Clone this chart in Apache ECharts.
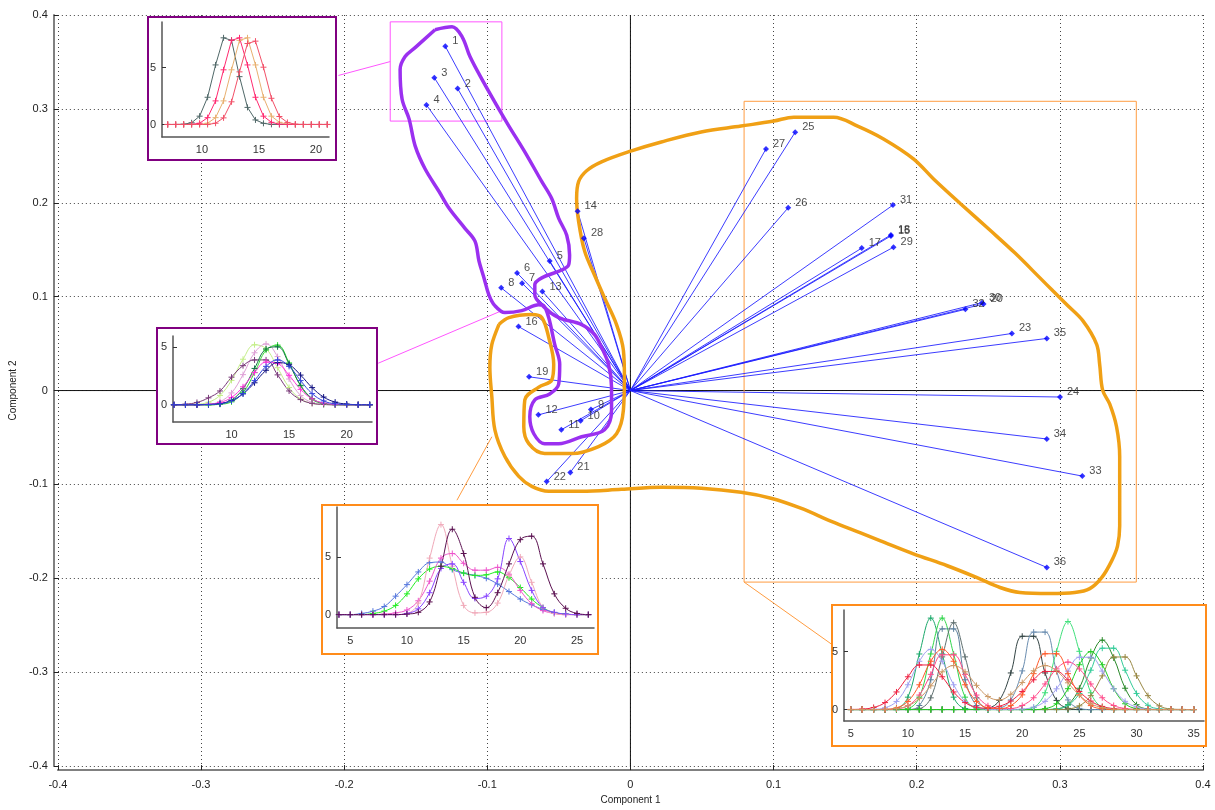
<!DOCTYPE html>
<html><head><meta charset="utf-8">
<script src="https://cdn.jsdelivr.net/npm/echarts@6/dist/echarts.min.js"></script>
<style>html,body{margin:0;padding:0;background:#fff}#c{width:1215px;height:810px}</style>
</head><body><div id="c"></div>
<script>
// ---------- main biplot data ----------
const pointNames = ['1','2','3','4','5','6','7','8','9','10','11','12','13','14','15','16','17','18','19','20','21','22','23','24','25','26','27','28','29','30','31','32','33','34','35','36'];
const pointX = [-0.1293,-0.1207,-0.1370,-0.1425,-0.0564,-0.0792,-0.0757,-0.0903,-0.0276,-0.0348,-0.0483,-0.0643,-0.0615,-0.0369,0.1820,-0.0782,0.1616,0.1820,-0.0708,0.2467,-0.0420,-0.0585,0.2665,0.3001,0.1151,0.1102,0.0947,-0.0325,0.1838,0.2456,0.1834,0.2340,0.3157,0.2909,0.2909,0.2909];
const pointY = [0.3666,0.3216,0.3332,0.3042,0.1380,0.1253,0.1144,0.1094,-0.0203,-0.0322,-0.0418,-0.0259,0.1055,0.1911,0.1647,0.0682,0.1517,0.1658,0.0146,0.0922,-0.0872,-0.0970,0.0608,-0.0069,0.2751,0.1947,0.2574,0.1623,0.1527,0.0936,0.1975,0.0865,-0.0911,-0.0516,0.0555,-0.1884];
const mainTicks = [-0.4,-0.3,-0.2,-0.1,0,0.1,0.2,0.3,0.4];

// hand-drawn group outlines (data coordinates)
const purpleX = [-0.1365,-0.1246,-0.1176,-0.1121,-0.1037,-0.0919,-0.0849,-0.0738,-0.0619,-0.0550,-0.0501,-0.0445,-0.0425,-0.0432,-0.0480,-0.0619,-0.0668,-0.0668,-0.0599,-0.0501,-0.0341,-0.0251,-0.0202,-0.0153,-0.0132,-0.0132,-0.0181,-0.0341,-0.0501,-0.0599,-0.0675,-0.0703,-0.0668,-0.0564,-0.0501,-0.0494,-0.0529,-0.0571,-0.0606,-0.0640,-0.0759,-0.0877,-0.0947,-0.0989,-0.1023,-0.1058,-0.1086,-0.1156,-0.1267,-0.1337,-0.1435,-0.1504,-0.1546,-0.1595,-0.1609,-0.1574,-0.1504,-0.1365];
const purpleY = [0.3843,0.3874,0.3768,0.3557,0.3314,0.2997,0.2817,0.2542,0.2225,0.2045,0.1834,0.1654,0.1443,0.1337,0.1284,0.1200,0.1126,0.1020,0.0883,0.0777,0.0703,0.0597,0.0460,0.0280,0.0037,-0.0206,-0.0418,-0.0492,-0.0566,-0.0566,-0.0460,-0.0280,-0.0100,-0.0037,0.0069,0.0280,0.0492,0.0777,0.0904,0.0914,0.0851,0.0830,0.0904,0.1020,0.1200,0.1380,0.1591,0.1728,0.1941,0.2120,0.2362,0.2606,0.2891,0.3102,0.3419,0.3557,0.3652,0.3843];
const orangeX = [-0.0919,-0.0849,-0.0689,-0.0619,-0.0571,-0.0536,-0.0550,-0.0640,-0.0738,-0.0745,-0.0710,-0.0599,-0.0411,-0.0223,-0.0097,-0.0049,-0.0042,-0.0049,-0.0097,-0.0181,-0.0251,-0.0320,-0.0362,-0.0376,-0.0362,-0.0306,-0.0202,0.0007,0.0216,0.0494,0.0773,0.1002,0.1141,0.1420,0.1587,0.1768,0.1977,0.2116,0.2304,0.2513,0.2687,0.2861,0.2951,0.3049,0.3160,0.3257,0.3278,0.3299,0.3348,0.3396,0.3418,0.3418,0.3418,0.3403,0.3362,0.3292,0.3209,0.3104,0.2930,0.2721,0.2582,0.2422,0.2213,0.1977,0.1747,0.1608,0.1399,0.1190,0.0982,0.0773,0.0494,0.0216,-0.0063,-0.0341,-0.0571,-0.0689,-0.0780,-0.0877,-0.0947,-0.0968,-0.0982,-0.0968,-0.0919];
const orangeY = [0.0703,0.0777,0.0809,0.0777,0.0566,0.0280,0.0111,0.0037,-0.0100,-0.0386,-0.0566,-0.0671,-0.0671,-0.0597,-0.0460,-0.0206,0.0143,0.0428,0.0703,0.0988,0.1231,0.1485,0.1802,0.2045,0.2225,0.2341,0.2436,0.2553,0.2648,0.2754,0.2817,0.2870,0.2912,0.2912,0.2817,0.2680,0.2468,0.2257,0.1993,0.1707,0.1464,0.1200,0.1062,0.0914,0.0745,0.0492,0.0280,0.0005,-0.0143,-0.0386,-0.0703,-0.1052,-0.1443,-0.1654,-0.1814,-0.1993,-0.2110,-0.2151,-0.2162,-0.2151,-0.2098,-0.1993,-0.1866,-0.1739,-0.1601,-0.1517,-0.1390,-0.1253,-0.1147,-0.1084,-0.1041,-0.1031,-0.1052,-0.1073,-0.1073,-0.1020,-0.0914,-0.0703,-0.0418,-0.0069,0.0248,0.0492,0.0703];
const magentaBoxX = [-0.1678,-0.0898];
const magentaBoxY = [0.2870,0.3927];
const orangeBoxX = [0.0794,0.3534];
const orangeBoxY = [-0.2040,0.3081];
const link1 = [[-0.2040,0.3356],[-0.1678,0.3504]];
const link2 = [[-0.1762,0.0291],[-0.0898,0.0851]];
const link3 = [[-0.1212,-0.1168],[-0.0968,-0.0492]];
const link4 = [[0.0794,-0.2040],[0.1414,-0.2711]];

// ---------- inset 1 ----------
const i1X = [7.0,7.7,8.4,9.1,9.8,10.5,11.2,11.9,12.6,13.3,14.0,14.7,15.4,16.1,16.8,17.5,18.2,18.9,19.6,20.3,21.0];
const i1Gray = [0,0,0.02,0.15,0.73,2.39,5.23,7.61,7.39,4.2,1.5,0.4,0.1,0.01,0,0,0,0,0,0,0];
const i1Tan  = [0,0,0,0,0,0.11,0.6,2.07,4.8,7.39,7.61,5.23,2.39,0.73,0.19,0.02,0,0,0,0,0];
const i1Pink = [0,0,0,0.01,0.11,0.6,2.07,4.8,7.39,7.61,5.23,2.39,0.73,0.19,0.02,0,0,0,0,0,0];
const i1Red  = [0,0,0,0,0,0,0.11,0.58,1.99,4.62,7.11,7.32,5.03,2.3,0.7,0.18,0.02,0,0,0,0];
// ---------- inset 2 ----------
const i2X = [5,6,7,8,9,10,11,12,13,14,15,16,17,18,19,20,21,22];
const i2Yellow  = [0,0,0.04,0.22,0.81,2.12,3.96,5.22,4.87,3.22,1.5,0.5,0.12,0.02,0,0,0,0];
const i2Mauve   = [0,0,0.01,0.05,0.27,1.03,2.62,4.52,5.29,4.19,2.24,0.81,0.2,0.03,0,0,0,0];
const i2Purple  = [0,0.05,0.2,0.6,1.2,2.4,3.4,3.9,3.9,2.6,1.2,0.45,0.12,0.03,0,0,0,0];
const i2Green   = [0,0,0,0,0.04,0.25,1.05,2.79,4.75,5.19,3.64,1.64,0.47,0.09,0.01,0,0,0];
const i2DkGreen = [0,0,0,0,0.08,0.41,1.39,3.16,4.85,5.04,3.55,1.69,0.54,0.12,0.02,0,0,0];
const i2Magenta = [0,0,0,0.04,0.19,0.64,1.56,2.81,3.71,3.59,2.56,1.34,0.51,0.14,0.03,0,0,0];
const i2Navy    = [0,0,0,0.03,0.11,0.37,0.95,1.91,3.0,3.66,3.48,2.58,1.49,0.67,0.23,0.06,0.01,0];
const i2Blue    = [0,0,0,0.02,0.08,0.33,0.97,2.1,3.34,3.9,3.34,2.1,0.97,0.33,0.08,0.02,0,0];
// ---------- inset 3 ----------
const i3X = [4,5,6,7,8,9,10,11,12,13,14,15,16,17,18,19,20,21,22,23,24,25,26];
const i3Blue    = [0,0,0.1,0.3,0.7,1.6,2.6,3.7,4.5,4.56,3.9,3.6,3.4,3.15,2.65,2.0,1.35,0.85,0.45,0.18,0.05,0,0];
const i3Green   = [0,0,0,0.1,0.3,0.8,1.8,3.1,3.95,4.18,4.0,3.6,3.4,3.45,3.7,3.2,2.35,1.35,0.6,0.15,0.03,0,0];
const i3Magenta = [0,0,0,0,0.05,0.15,0.4,1.2,2.9,4.9,5.3,4.45,3.85,3.85,4.1,3.5,2.1,0.95,0.35,0.1,0,0,0];
const i3Pink    = [0,0,0,0,0,0,0.1,1.0,4.9,7.8,4.2,0.8,0.15,0.2,1.0,3.4,5.0,2.8,0.6,0.1,0,0,0];
const i3Violet  = [0,0,0,0,0,0,0.1,0.5,1.9,4.0,4.4,2.8,1.4,1.6,3.1,6.6,4.6,2.1,0.6,0.2,0.05,0,0];
const i3Dark    = [0,0,0,0,0,0,0.05,0.2,1.1,4.2,7.4,5.3,1.5,0.6,1.9,4.4,6.5,6.8,4.4,1.8,0.55,0.1,0];
// ---------- inset 4 ----------
const i4X = [5,6,7,8,9,10,11,12,13,14,15,16,17,18,19,20,21,22,23,24,25,26,27,28,29,30,31,32,33,34,35];
const i4Teal     = [0,0,0,0,0.09,1.07,4.8,7.9,4.8,1.07,0.09,0,0,0,0,0,0,0,0,0,0,0,0,0,0,0,0,0,0,0,0];
const i4Green    = [0,0,0,0,0,0.09,1.07,4.8,7.9,4.8,1.07,0.09,0,0,0,0,0,0,0,0,0,0,0,0,0,0,0,0,0,0,0];
const i4Slate    = [0,0,0,0,0,0,0.35,2.57,6.97,6.97,2.57,0.35,0.02,0,0,0,0,0,0,0,0,0,0,0,0,0,0,0,0,0,0];
const i4Gray     = [0,0,0,0,0,0,0.08,1.01,4.55,7.5,4.55,1.01,0.08,0,0,0,0,0,0,0,0,0,0,0,0,0,0,0,0,0,0];
const i4DkSlate  = [0,0,0,0,0,0,0,0,0,0,0,0,0.1,0.79,3.16,6.33,6.33,3.16,0.79,0.1,0,0,0,0,0,0,0,0,0,0,0];
const i4Steel    = [0,0,0,0,0,0,0,0,0,0,0,0,0,0.1,0.83,3.34,6.69,6.69,3.34,0.83,0.1,0,0,0,0,0,0,0,0,0,0];
const i4OrangeRed= [0,0,0,0.02,0.15,0.7,2.14,4.17,5.2,4.17,2.14,0.7,0.15,0.08,0.34,1.27,3.1,4.82,4.82,3.1,1.27,0.34,0.06,0,0,0,0,0,0,0,0];
const i4Green2   = [0,0,0,0,0,0,0,0,0,0,0,0,0,0,0,0,0.18,1.45,5.03,7.6,5.03,1.45,0.18,0,0,0,0,0,0,0,0];
const i4DkGreen  = [0,0,0,0,0,0,0,0,0,0,0,0,0,0,0,0,0,0,0.05,0.42,1.84,4.46,6.0,4.46,1.84,0.42,0.05,0,0,0,0];
const i4TealGreen= [0,0,0,0,0,0,0,0,0,0,0,0,0,0,0,0,0,0.01,0.06,0.37,1.39,3.4,5.3,5.3,3.4,1.39,0.37,0.06,0.01,0,0];
const i4Olive    = [0,0,0,0,0,0,0,0,0,0,0,0,0,0,0,0,0,0,0,0.05,0.32,1.2,2.91,4.54,4.54,2.91,1.2,0.32,0.05,0.01,0];
const i4Lime     = [0,0,0,0,0,0,0,0,0,0,0,0,0,0,0,0,0,0.08,0.5,1.8,3.87,5.0,3.87,1.8,0.5,0.08,0,0,0,0,0];
const i4Lavender = [0,0,0.02,0.15,0.7,2.14,4.17,5.2,4.17,2.14,0.7,0.15,0.02,0,0.01,0.04,0.21,0.71,1.79,3.32,4.52,4.52,3.32,1.79,0.71,0.21,0.04,0.01,0,0,0];
const i4Red      = [0.01,0.04,0.18,0.6,1.52,2.83,3.85,3.85,2.83,1.52,0.6,0.2,0.12,0.28,0.73,1.56,2.57,3.29,3.29,2.57,1.56,0.73,0.27,0.08,0.02,0,0,0,0,0,0];
const i4Pink     = [0,0,0,0,0.06,0.33,1.25,3.04,4.73,4.73,3.04,1.25,0.33,0.08,0.09,0.35,1.02,2.21,3.51,4.1,3.51,2.21,1.02,0.35,0.09,0.02,0,0,0,0,0];
const i4Tan      = [0,0,0,0.02,0.08,0.32,0.95,2.05,3.26,3.8,3.26,2.09,1.12,0.83,1.32,2.33,3.35,3.8,3.35,2.31,1.24,0.51,0.17,0.04,0,0,0,0,0,0,0];

// ---------- build ----------
const FONT = 'Liberation Sans, Arial, sans-serif';
const PLUS = 'path://M0,5L10,5M5,0L5,10';
const pairs = (xs, ys) => xs.map((x, i) => [x, ys[i]]);
const box = (bx, by) => [[bx[0],by[0]],[bx[1],by[0]],[bx[1],by[1]],[bx[0],by[1]],[bx[0],by[0]]];

function insetSeries(k, xs, ys, color, smooth) {
  return {type:'line', xAxisIndex:k, yAxisIndex:k, data:pairs(xs, ys), symbol:PLUS, symbolSize:6,
    smooth:smooth, lineStyle:{color:color, width:1}, itemStyle:{color:color, borderColor:color, borderWidth:1},
    z:21, silent:true, animation:false};
}
function insetX(k, min, max, ticks) {
  return {type:'value', gridIndex:k, min:min, max:max, z:20,
    axisLine:{onZero:false, lineStyle:{color:'#555', width:1.5}}, axisTick:{show:false}, splitLine:{show:false},
    axisLabel:{customValues:ticks, color:'#333', fontSize:11, margin:7, fontFamily:FONT}};
}
function insetY(k, min, max) {
  return {type:'value', gridIndex:k, min:min, max:max, z:20,
    axisLine:{onZero:false, lineStyle:{color:'#555', width:1.5}},
    axisTick:{show:true, inside:true, length:4, customValues:[0,5], lineStyle:{color:'#333'}},
    splitLine:{show:false},
    axisLabel:{customValues:[0,5], color:'#333', fontSize:11, margin:6, fontFamily:FONT}};
}
function lineSeries(data, color, width, z, smooth) {
  return {type:'line', xAxisIndex:0, yAxisIndex:0, data:data, symbol:'none', smooth:smooth || false,
    lineStyle:{color:color, width:width}, z:z, silent:true, animation:false};
}

const frame = (x, y, w, h, color) => ({type:'rect', z:15, zlevel:0, shape:{x:x, y:y, width:w, height:h},
  style:{fill:'#fff', stroke:color, lineWidth:2}});

const option = {
  animation:false,
  textStyle:{fontFamily:FONT},
  grid:[
    {left:54, right:12, top:15, bottom:38},
    {left:162, top:22, width:167, height:115},
    {left:173, top:336, width:199, height:86},
    {left:337, top:507, width:257, height:121},
    {left:844, top:610, width:360, height:111}
  ],
  xAxis:[
    {type:'value', gridIndex:0, min:-0.4, max:0.4, interval:0.1, offset:4,
      axisLine:{onZero:false, lineStyle:{color:'#808080', width:2}},
      axisTick:{inside:true, length:5, lineStyle:{color:'#222'}},
      axisLabel:{color:'#222', fontSize:11, margin:9, customValues:mainTicks},
      splitLine:{show:true, lineStyle:{color:'#444', type:[1,3], width:1}},
      name:'Component 1', nameLocation:'middle', nameGap:24, nameTextStyle:{fontSize:10, color:'#222'}},
    insetX(1, 6.5, 21.15, [10,15,20]),
    insetX(2, 4.92, 22.2, [10,15,20]),
    insetX(3, 3.83, 26.5, [5,10,15,20,25]),
    insetX(4, 4.41, 35.9, [5,10,15,20,25,30,35])
  ],
  yAxis:[
    {type:'value', gridIndex:0, min:-0.4, max:0.4, interval:0.1, offset:4,
      axisLine:{onZero:false, lineStyle:{color:'#808080', width:2}},
      axisTick:{inside:true, length:5, lineStyle:{color:'#222'}},
      axisLabel:{color:'#222', fontSize:11, margin:6, customValues:mainTicks},
      splitLine:{show:true, lineStyle:{color:'#444', type:[1,3], width:1}},
      name:'Component 2', nameLocation:'middle', nameGap:30, nameTextStyle:{fontSize:10, color:'#222'}},
    insetY(1, -1.1, 9.0),
    insetY(2, -1.5, 5.98),
    insetY(3, -1.16, 9.33),
    insetY(4, -0.99, 8.6)
  ],
  graphic:{elements:[
    frame(148, 17, 188, 143, '#800080'),
    frame(157, 328, 220, 116, '#800080'),
    frame(322, 505, 276, 149, '#ff8c1a'),
    frame(832, 605, 374, 141, '#ff8c1a')
  ]},
  series:[
    lineSeries([[0,-0.4],[0,0.4]], '#111', 1, 3),
    lineSeries([[-0.4,0],[0.4,0]], '#111', 1, 3),
    {type:'lines', coordinateSystem:'cartesian2d', xAxisIndex:0, yAxisIndex:0, z:4, silent:true, animation:false,
      data:pointX.map((x, i) => ({coords:[[0,0],[x, pointY[i]]]})),
      lineStyle:{color:'#1a1aff', width:1, opacity:0.85}},
    lineSeries(box(magentaBoxX, magentaBoxY), '#ff55ff', 1, 3),
    lineSeries(box(orangeBoxX, orangeBoxY), '#ff9c40', 1, 3),
    lineSeries(link1, '#ff55ff', 1, 3),
    lineSeries(link2, '#ff55ff', 1, 3),
    lineSeries(link3, '#ff9c40', 1, 3),
    lineSeries(link4, '#ff9c40', 1, 3),
    lineSeries(pairs(purpleX, purpleY), '#9b30f0', 3.5, 5, 0.35),
    lineSeries(pairs(orangeX, orangeY), '#f0a015', 3.5, 5, 0.35),
    {type:'scatter', xAxisIndex:0, yAxisIndex:0, z:6, silent:true, animation:false,
      symbol:'diamond', symbolSize:6, itemStyle:{color:'#0000ff'},
      data:pointX.map((x, i) => ({name:pointNames[i], value:[x, pointY[i]]})),
      label:{show:true, formatter:'{b}', position:'right', distance:4, offset:[0,-5], color:'#222', fontSize:11}},
    // inset 1
    insetSeries(1, i1X, i1Gray, '#506868', false),
    insetSeries(1, i1X, i1Tan, '#e8b070', false),
    insetSeries(1, i1X, i1Pink, '#ff2a70', false),
    insetSeries(1, i1X, i1Red, '#f25068', false),
    // inset 2
    insetSeries(2, i2X, i2Yellow, '#c4ee88', 0.4),
    insetSeries(2, i2X, i2Mauve, '#dea0d6', 0.4),
    insetSeries(2, i2X, i2Purple, '#7a3a7a', 0.4),
    insetSeries(2, i2X, i2Green, '#33dd33', 0.4),
    insetSeries(2, i2X, i2DkGreen, '#117744', 0.4),
    insetSeries(2, i2X, i2Magenta, '#ff33dd', 0.4),
    insetSeries(2, i2X, i2Navy, '#101080', 0.4),
    insetSeries(2, i2X, i2Blue, '#3344dd', 0.4),
    // inset 3
    insetSeries(3, i3X, i3Blue, '#5577dd', 0.4),
    insetSeries(3, i3X, i3Green, '#22ee22', 0.4),
    insetSeries(3, i3X, i3Magenta, '#ee55cc', 0.4),
    insetSeries(3, i3X, i3Pink, '#f0a8b8', 0.4),
    insetSeries(3, i3X, i3Violet, '#8844ff', 0.4),
    insetSeries(3, i3X, i3Dark, '#5a1050', 0.4),
    // inset 4
    insetSeries(4, i4X, i4Teal, '#1aa86a', 0.4),
    insetSeries(4, i4X, i4Green, '#2fd64a', 0.4),
    insetSeries(4, i4X, i4Slate, '#5b7f9c', 0.4),
    insetSeries(4, i4X, i4Gray, '#5f6f6f', 0.4),
    insetSeries(4, i4X, i4DkSlate, '#334444', 0.4),
    insetSeries(4, i4X, i4Steel, '#6a8db0', 0.4),
    insetSeries(4, i4X, i4Green2, '#3ee07a', 0.4),
    insetSeries(4, i4X, i4DkGreen, '#2a8a2a', 0.4),
    insetSeries(4, i4X, i4TealGreen, '#33cc99', 0.4),
    insetSeries(4, i4X, i4Olive, '#998844', 0.4),
    insetSeries(4, i4X, i4Lime, '#22cc22', 0.4),
    insetSeries(4, i4X, i4Lavender, '#a0a0f0', 0.4),
    insetSeries(4, i4X, i4Red, '#ee2040', 0.4),
    insetSeries(4, i4X, i4Pink, '#ff4a8a', 0.4),
    insetSeries(4, i4X, i4OrangeRed, '#ff5a2a', 0.4),
    insetSeries(4, i4X, i4Tan, '#cc9966', 0.4)
  ]
};
const chart = echarts.init(document.getElementById('c'), null, {renderer:'canvas'});
chart.setOption(option);
</script>
</body></html>
